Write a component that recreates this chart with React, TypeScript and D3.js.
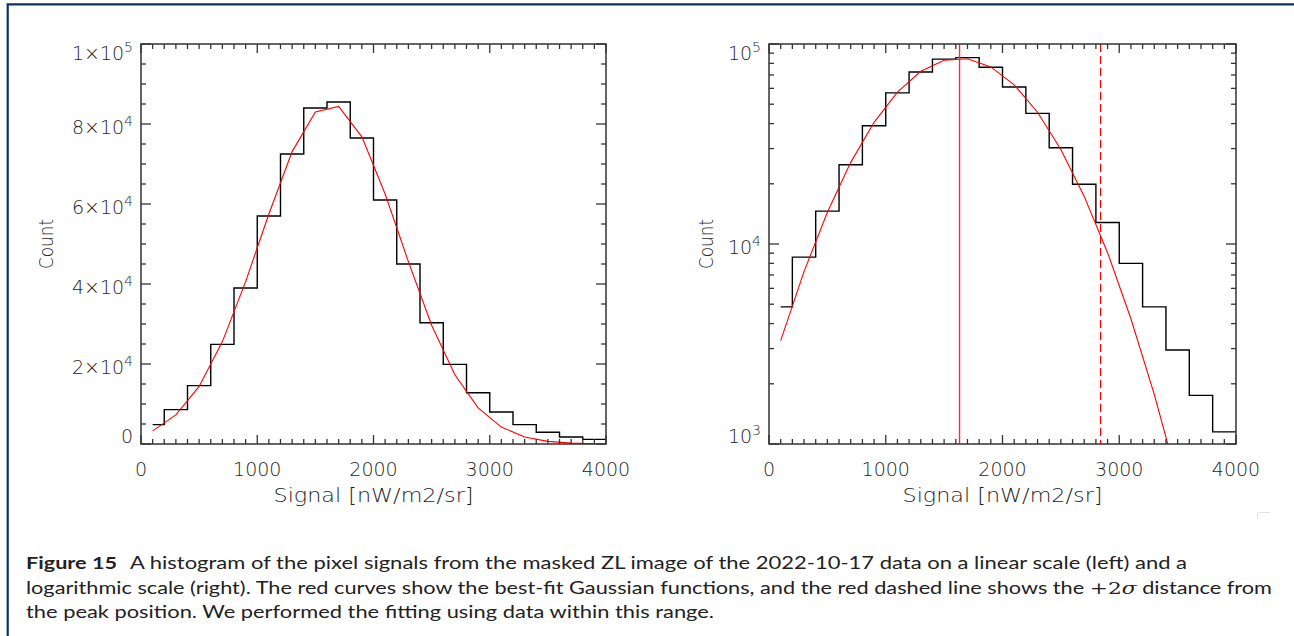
import React from 'react';
import * as d3 from 'd3';

// ---- Data ----
const BIN_CENTERS = [100, 300, 500, 700, 900, 1100, 1300, 1500, 1700, 1900, 2100, 2300, 2500, 2700, 2900, 3100, 3300, 3500, 3700, 3900];
const COUNTS = [4850, 8600, 14600, 24900, 39000, 57000, 72500, 84000, 85500, 76500, 61000, 45000, 30300, 19900, 12800, 8000, 4850, 2950, 1750, 1150];
const FIT_COUNTS = [3290, 7280, 14400, 25600, 40600, 57500, 73100, 83000, 84400, 76800, 62500, 45600, 29700, 17300, 9050, 4230, 1770, 660, 220, 66];
const PEAK_POSITION = 1632;
const PLUS_2SIGMA = 2840;

const X_DOMAIN = [0, 4000];
const X_TICKS = [0, 1000, 2000, 3000, 4000];
const X_TICK_LABELS = ['0', '1000', '2000', '3000', '4000'];
const LIN_Y_DOMAIN = [0, 100000];
const LIN_Y_TICKS = [0, 20000, 40000, 60000, 80000, 100000];
const LIN_Y_LABELS: [string, string][] = [['0', ''], ['2×10', '4'], ['4×10', '4'], ['6×10', '4'], ['8×10', '4'], ['1×10', '5']];
const LOG_Y_DOMAIN = [1000, 100000];
const LOG_Y_TICKS = [1000, 10000, 100000];
const LOG_Y_LABELS: [string, string][] = [['10', '3'], ['10', '4'], ['10', '5']];
const X_TITLE = 'Signal [nW/m2/sr]';
const Y_TITLE = 'Count';

const CAPTION_BOLD = 'Figure 15';
const CAPTION_1 = 'A histogram of the pixel signals from the masked ZL image of the 2022-10-17 data on a linear scale (left) and a';
const CAPTION_2A = 'logarithmic scale (right). The red curves show the best-fit Gaussian functions, and the red dashed line shows the ';
const CAPTION_2B = ' distance from';
const CAPTION_3 = 'the peak position. We performed the fitting using data within this range.';

// ---- Layout ----
const W = 1294;
const H = 636;
const TOP = 44;
const BOTTOM = 444;
const AXIS_FONT = '"DejaVu Sans", sans-serif';
const CAP_FONT = 'Lato, "Open Sans", sans-serif';

type PanelProps = { x0: number; x1: number; log: boolean; id: string; titleX: number };

function Panel({ x0, x1, log, id, titleX }: PanelProps) {
  const x = d3.scaleLinear().domain(X_DOMAIN).range([x0, x1]);
  const y: any = log
    ? d3.scaleLog().domain(LOG_Y_DOMAIN).range([BOTTOM, TOP])
    : d3.scaleLinear().domain(LIN_Y_DOMAIN).range([BOTTOM, TOP]);

  const xMinor = d3.range(X_DOMAIN[0], X_DOMAIN[1] + 1, 100).filter((v) => v % 1000 !== 0);
  let yMinor: number[] = [];
  if (log) {
    [1000, 10000].forEach((dec) => {
      for (let m = 2; m <= 9; m++) yMinor.push(m * dec);
    });
  } else {
    yMinor = d3.range(0, 100001, 5000).filter((v) => v % 20000 !== 0);
  }
  const yMajor = log ? LOG_Y_TICKS : LIN_Y_TICKS;
  const yLabels = log ? LOG_Y_LABELS : LIN_Y_LABELS;

  const n = BIN_CENTERS.length;
  const lastEdge = BIN_CENTERS[n - 1] + (BIN_CENTERS[n - 1] - BIN_CENTERS[n - 2]) / 2;
  const histPts: [number, number][] = BIN_CENTERS.map((c, i) => [c, COUNTS[i]]);
  histPts.push([lastEdge, COUNTS[n - 1]]);
  const histPath = d3
    .line<[number, number]>()
    .x((d) => x(d[0]))
    .y((d) => y(d[1]))
    .curve(d3.curveStep)(histPts) as string;

  const fitPts: [number, number][] = BIN_CENTERS.map((c, i) => [c, FIT_COUNTS[i]]);
  const fitPath = d3
    .line<[number, number]>()
    .x((d) => x(d[0]))
    .y((d) => y(d[1]))(fitPts) as string;

  const frame = '#333';
  const labelFill = '#1e1e1e';
  const cx = (x0 + x1) / 2;
  const cy = (TOP + BOTTOM) / 2;

  return (
    <g>
      <defs>
        <clipPath id={id}>
          <rect x={x0} y={TOP} width={x1 - x0} height={BOTTOM - TOP} />
        </clipPath>
      </defs>
      <g clipPath={`url(#${id})`}>
        <path d={histPath} fill="none" stroke="#000" strokeWidth={1.4} />
        <path d={fitPath} fill="none" stroke="#ff0000" strokeWidth={1.1} />
        {log && (
          <>
            <line x1={x(PEAK_POSITION)} x2={x(PEAK_POSITION)} y1={TOP} y2={BOTTOM} stroke="#ff2a2a" strokeWidth={1.4} />
            <line x1={x(PLUS_2SIGMA)} x2={x(PLUS_2SIGMA)} y1={TOP} y2={BOTTOM} stroke="#ff0000" strokeWidth={1.3} strokeDasharray="8,4" />
          </>
        )}
      </g>
      <rect x={x0} y={TOP} width={x1 - x0} height={BOTTOM - TOP} fill="none" stroke={frame} strokeWidth={1.5} />
      {xMinor.map((v) => (
        <g key={'xm' + v}>
          <line x1={x(v)} x2={x(v)} y1={BOTTOM} y2={BOTTOM - 5} stroke={frame} strokeWidth={1.3} />
          <line x1={x(v)} x2={x(v)} y1={TOP} y2={TOP + 5} stroke={frame} strokeWidth={1.3} />
        </g>
      ))}
      {X_TICKS.map((v) => (
        <g key={'xM' + v}>
          <line x1={x(v)} x2={x(v)} y1={BOTTOM} y2={BOTTOM - 9} stroke={frame} strokeWidth={1.3} />
          <line x1={x(v)} x2={x(v)} y1={TOP} y2={TOP + 9} stroke={frame} strokeWidth={1.3} />
        </g>
      ))}
      {yMinor.map((v) => (
        <g key={'ym' + v}>
          <line x1={x0} x2={x0 + 5} y1={y(v)} y2={y(v)} stroke={frame} strokeWidth={1.3} />
          <line x1={x1} x2={x1 - 5} y1={y(v)} y2={y(v)} stroke={frame} strokeWidth={1.3} />
        </g>
      ))}
      {yMajor.map((v) => (
        <g key={'yM' + v}>
          <line x1={x0} x2={x0 + 10} y1={y(v)} y2={y(v)} stroke={frame} strokeWidth={1.3} />
          <line x1={x1} x2={x1 - 10} y1={y(v)} y2={y(v)} stroke={frame} strokeWidth={1.3} />
        </g>
      ))}
      <g fontFamily={AXIS_FONT} fontWeight={200} fill={labelFill}>
        {X_TICKS.map((v, i) => (
          <text key={'xl' + v} x={x(v)} y={476} textAnchor="middle" fontSize={19}>
            {X_TICK_LABELS[i]}
          </text>
        ))}
        {yMajor.map((v, i) => {
          const last = i === yMajor.length - 1;
          const first = i === 0;
          const base = y(v) + (last ? 15.5 : first ? -1 : 9.5);
          const [m, e] = yLabels[i];
          return (
            <text key={'yl' + v} x={x0 - 8} y={base} textAnchor="end" fontSize={19}>
              <tspan>{m}</tspan>
              {e && (
                <tspan fontSize={14} dy={-8}>
                  {e}
                </tspan>
              )}
            </text>
          );
        })}
        <text x={cx} y={502} textAnchor="middle" fontSize={19} textLength={200} lengthAdjust="spacingAndGlyphs">
          {X_TITLE}
        </text>
        <text
          transform={`translate(${titleX},${cy}) rotate(-90)`}
          textAnchor="middle"
          fontSize={19}
          textLength={50}
          lengthAdjust="spacingAndGlyphs"
        >
          {Y_TITLE}
        </text>
      </g>
    </g>
  );
}

export default function App() {
  return (
    <svg
      width={W}
      height={H}
      viewBox={`0 0 ${W} ${H}`}
      style={{ position: 'absolute', left: 0, top: 0, background: '#fff' }}
    >
      <rect x={0} y={0} width={W} height={H} fill="#fff" />
      <path d={`M7.7,${H + 10} V4.3 H${W + 10}`} fill="none" stroke="#0a3266" strokeWidth={2.2} />
      <Panel x0={141} x1={606} log={false} id="clipL" titleX={53} />
      <Panel x0={769} x1={1236} log={true} id="clipR" titleX={713} />
      <path d="M1257.5,518 V512.5 H1270" fill="none" stroke="#e2e2e2" strokeWidth={1} />
      <g fontFamily={CAP_FONT} fontSize={17.5} fill="#222">
        <text x={26} y={569} fontWeight="bold" textLength={91} lengthAdjust="spacingAndGlyphs">
          {CAPTION_BOLD}
        </text>
        <text x={130} y={569} textLength={1057} lengthAdjust="spacingAndGlyphs">
          {CAPTION_1}
        </text>
        <text x={26} y={593.5} textLength={1246} lengthAdjust="spacingAndGlyphs">
          {CAPTION_2A}
          <tspan fontFamily='"DejaVu Serif", serif'>+2</tspan>
          <tspan fontFamily='"DejaVu Serif", serif' fontStyle="italic">σ</tspan>
          {CAPTION_2B}
        </text>
        <text x={26} y={617.5} textLength={688} lengthAdjust="spacingAndGlyphs">
          {CAPTION_3}
        </text>
      </g>
    </svg>
  );
}
